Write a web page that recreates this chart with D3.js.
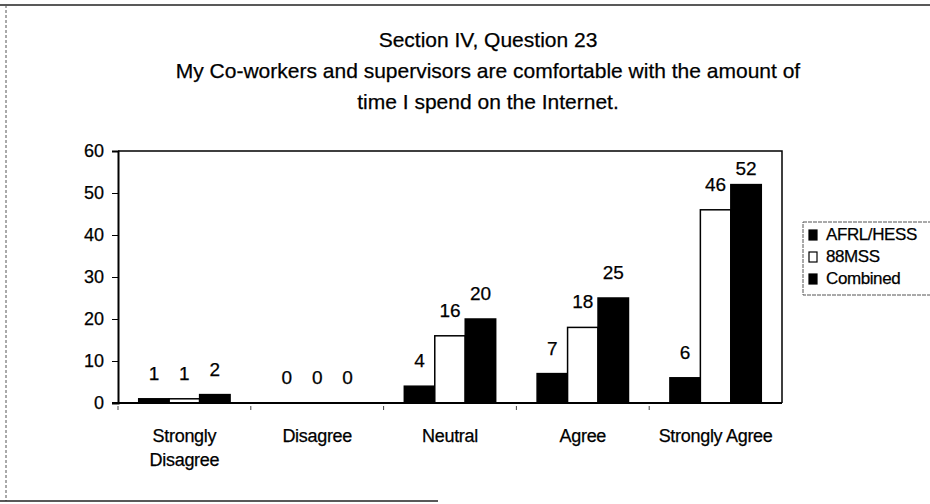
<!DOCTYPE html>
<html>
<head>
<meta charset="utf-8">
<script src="https://cdn.jsdelivr.net/npm/d3@7"></script>
<style>
  body { margin: 0; background: #fff; }
  svg { display: block; }
  text { font-family: "Liberation Sans", Arial, sans-serif; fill: #000; stroke: #000; stroke-width: 0.25px; }
</style>
</head>
<body>
<svg id="chart"></svg>
<script>
const width = 930;
const height = 504;

// data
const categories = ["Strongly Disagree", "Disagree", "Neutral", "Agree", "Strongly Agree"];
const categoryLines = [["Strongly", "Disagree"], ["Disagree"], ["Neutral"], ["Agree"], ["Strongly Agree"]];
const seriesNames = ["AFRL/HESS", "88MSS", "Combined"];
const afrlHess = [1, 0, 4, 7, 6];
const mss88 = [1, 0, 16, 18, 46];
const combined = [2, 0, 20, 25, 52];
const yTicks = [0, 10, 20, 30, 40, 50, 60];
const titleLines = [
  "Section IV, Question 23",
  "My Co-workers and supervisors are comfortable with the amount of",
  "time I spend on the Internet."
];

const seriesValues = [afrlHess, mss88, combined];
const seriesFill = ["#000", "#fff", "#000"];

const plot = { left: 118, right: 782, top: 151, bottom: 403 };

var svg = d3.select("#chart")
  .attr("width", width)
  .attr("height", height);

// scanned page frame
svg.append("line").attr("x1", 0).attr("x2", width).attr("y1", 5).attr("y2", 5)
  .style("stroke", "#222").style("stroke-width", 1.5);
svg.append("line").attr("x1", 6).attr("x2", 6).attr("y1", 5).attr("y2", 501)
  .style("stroke", "#555").style("stroke-width", 1).style("stroke-dasharray", "3,2");
svg.append("line").attr("x1", 0).attr("x2", 438).attr("y1", 501).attr("y2", 501)
  .style("stroke", "#222").style("stroke-width", 1.5);

// title
svg.append("g").selectAll("text")
  .data(titleLines)
  .enter().append("text")
  .attr("x", 488)
  .attr("y", (d, i) => 47 + i * 31)
  .attr("text-anchor", "middle")
  .style("font-size", "21px")
  .text(d => d);

var x0 = d3.scaleBand()
  .domain(categories)
  .range([plot.left, plot.right]);

var x1 = d3.scaleBand()
  .domain(seriesNames)
  .range([0, x0.bandwidth()])
  .paddingInner(0)
  .paddingOuter(0.68);

var y = d3.scaleLinear()
  .domain([0, 60])
  .range([plot.bottom, plot.top]);

// plot frame (top + right)
svg.append("path")
  .attr("d", `M${plot.left},${plot.top}H${plot.right}V${plot.bottom}`)
  .style("fill", "none").style("stroke", "#000").style("stroke-width", 1.5);

// y axis
var yAxis = svg.append("g")
  .attr("transform", `translate(${plot.left},0)`)
  .call(d3.axisLeft(y).tickValues(yTicks).tickSize(6).tickPadding(8));
yAxis.select(".domain").style("stroke-width", 2);
yAxis.selectAll("text").style("font-size", "18px").style("font-family", "'Liberation Sans', Arial, sans-serif");

// bars
var groups = svg.append("g").selectAll("g")
  .data(categories)
  .enter().append("g")
  .attr("transform", d => `translate(${x0(d)},0)`);

groups.selectAll("rect")
  .data((c, ci) => seriesNames.map((s, si) => ({ s: s, si: si, v: seriesValues[si][ci] })))
  .enter().append("rect")
  .attr("x", d => x1(d.s))
  .attr("y", d => y(d.v))
  .attr("width", x1.bandwidth())
  .attr("height", d => y(0) - y(d.v))
  .style("fill", d => seriesFill[d.si])
  .style("stroke", "#000")
  .style("stroke-width", 1.5);

// value labels
groups.selectAll("text")
  .data((c, ci) => seriesNames.map((s, si) => ({ s: s, si: si, v: seriesValues[si][ci] })))
  .enter().append("text")
  .attr("x", d => x1(d.s) + x1.bandwidth() / 2)
  .attr("y", d => Math.max(y(d.v) - 19, plot.top + 24))
  .attr("text-anchor", "middle")
  .style("font-size", "19px")
  .text(d => d.v);

// x axis baseline
var xAxis = svg.append("g")
  .attr("transform", `translate(0,${plot.bottom})`);
xAxis.append("line")
  .attr("x1", plot.left - 6).attr("x2", plot.right)
  .style("stroke", "#000").style("stroke-width", 2);
xAxis.selectAll(".tick")
  .data(categories)
  .enter().append("line")
  .attr("x1", d => x0(d)).attr("x2", d => x0(d))
  .attr("y1", 3).attr("y2", 7)
  .style("stroke", "#444").style("stroke-width", 1);

xAxis.selectAll(".cat")
  .data(categories)
  .enter().append("text")
  .attr("text-anchor", "middle")
  .attr("transform", d => `translate(${x0(d) + x0.bandwidth() / 2},39)`)
  .style("font-size", "18px")
  .style("letter-spacing", "-0.3px")
  .each(function (d, i) {
    d3.select(this).selectAll("tspan")
      .data(categoryLines[i])
      .enter().append("tspan")
      .attr("x", 0)
      .attr("dy", (t, j) => j === 0 ? 0 : 24)
      .text(t => t);
  });

// legend
var legend = svg.append("g").attr("transform", "translate(803,222)");
legend.append("rect")
  .attr("width", 140).attr("height", 73)
  .style("fill", "#fff").style("stroke", "#555").style("stroke-width", 1)
  .style("stroke-dasharray", "4,1");
var items = legend.selectAll(".item")
  .data(seriesNames)
  .enter().append("g")
  .attr("transform", (d, i) => `translate(6,${12 + i * 22})`);
items.append("rect")
  .attr("x", 0).attr("y", -4)
  .attr("width", 8).attr("height", 10)
  .style("fill", (d, i) => seriesFill[i])
  .style("stroke", "#000").style("stroke-width", 1.2);
items.append("text")
  .attr("x", 17).attr("y", 6)
  .style("font-size", "17px")
  .style("letter-spacing", "-0.4px")
  .text(d => d);
</script>
</body>
</html>
